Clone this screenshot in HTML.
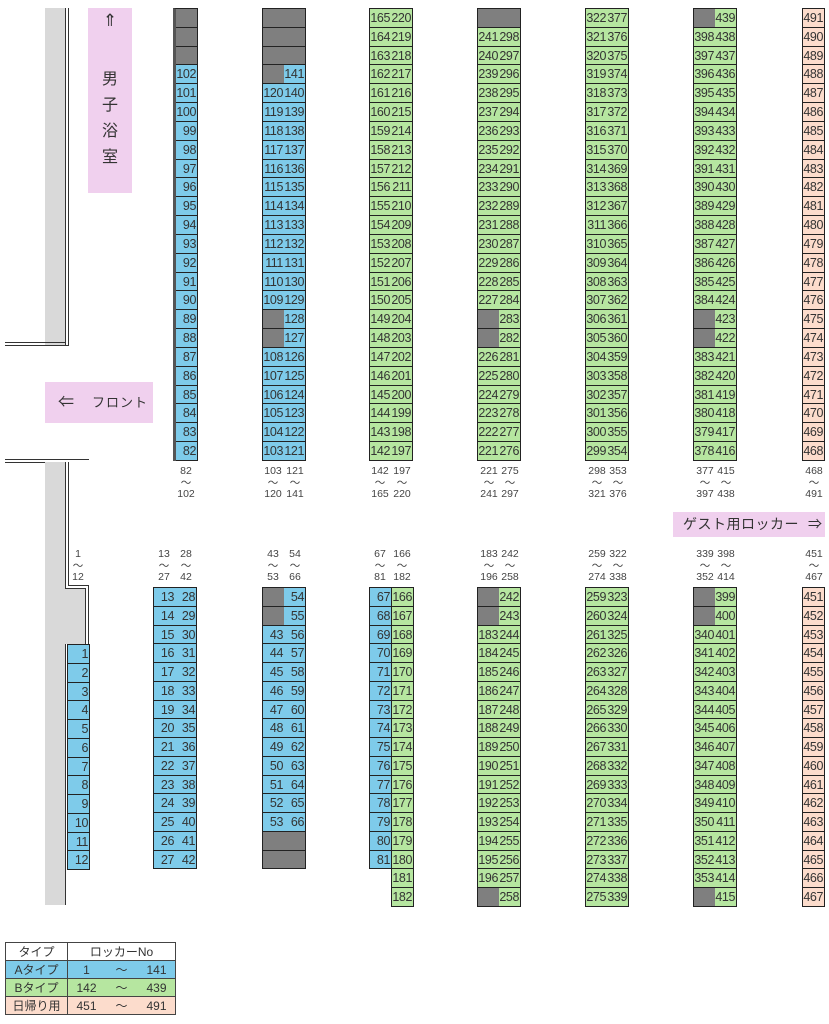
<!DOCTYPE html>
<html><head><meta charset="utf-8"><style>
body{margin:0;width:829px;height:1024px;background:#fff;position:relative;overflow:hidden;font-family:"Liberation Sans","Noto Sans CJK JP",sans-serif;color:#333}
.c{position:absolute;width:22px;border-top:1px solid #222;border-left:1px solid #222}
.c i,.c b,.c u,.c s{display:block;box-sizing:border-box;border-right:1px solid #222;border-bottom:1px solid #222;font-style:normal;font-weight:normal;text-decoration:none;font-size:12.5px;text-align:right;padding-right:1px;letter-spacing:-0.4px}
.t i,.t b,.t u,.t s{height:18.83px;line-height:18px}
.m i,.m b,.m u,.m s{height:18.75px;line-height:18px}
.c b{background:#7f7f7f}
.c i{background:#7ecbea}
.c u{background:#b6e6a0}
.c s{background:#fcdccc}
.l{position:absolute;width:30px;text-align:center;font-size:10.5px;line-height:11.5px;color:#444}
.g{position:absolute;background:#d9d9d9}
.p{position:absolute;background:#f0d0ee;white-space:nowrap;overflow:hidden}
table{position:absolute;left:5px;top:942px;border-collapse:collapse;font-size:12px;color:#333}
td{border:1px solid #444;height:17px;padding:0;text-align:center}
</style></head><body>
<!-- walls -->
<div class="g" style="left:45px;top:8px;width:21px;height:337px"></div>
<div style="position:absolute;left:65px;top:8px;width:1px;height:337px;background:#333"></div>
<div style="position:absolute;left:68px;top:8px;width:1px;height:337px;background:#333"></div>
<div style="position:absolute;left:5px;top:342px;width:61px;height:1px;background:#333"></div>
<div style="position:absolute;left:5px;top:345px;width:64px;height:1px;background:#333"></div>
<div style="position:absolute;left:5px;top:459px;width:84px;height:1px;background:#333"></div>
<div style="position:absolute;left:5px;top:462px;width:61px;height:1px;background:#333"></div>
<div class="g" style="left:45px;top:462px;width:21px;height:443px"></div>
<div class="g" style="left:65px;top:588px;width:21px;height:56px"></div>
<div style="position:absolute;left:65px;top:462px;width:1px;height:127px;background:#333"></div>
<div style="position:absolute;left:68px;top:462px;width:1px;height:124px;background:#333"></div>
<div style="position:absolute;left:68px;top:585px;width:21px;height:1px;background:#333"></div>
<div style="position:absolute;left:65px;top:588px;width:21px;height:1px;background:#333"></div>
<div style="position:absolute;left:88px;top:585px;width:1px;height:60px;background:#333"></div>
<div style="position:absolute;left:85px;top:588px;width:1px;height:56px;background:#333"></div>
<div style="position:absolute;left:65px;top:644px;width:1px;height:261px;background:#333"></div>

<!-- pink signs -->
<div class="p" style="left:88px;top:8px;width:44px;height:185px;text-align:center;font-size:16px">
<div style="margin-top:3px;font-size:17px">⇑</div>
<div style="margin-top:36px;line-height:26px">男<br>子<br>浴<br>室</div></div>
<div class="p" style="left:45px;top:382px;width:108px;height:41px;font-size:13px;line-height:41px"><span style="margin-left:13px;font-size:16px">⇐</span><span style="margin-left:18px;letter-spacing:1px">フロント</span></div>
<div class="p" style="left:673px;top:512px;width:152px;height:25px;font-size:14px;line-height:25px"><span style="margin-left:10px;letter-spacing:0.5px">ゲスト用ロッカー</span><span style="position:absolute;right:3px">⇒</span></div>

<!-- top columns -->
<div class="c t" style="left:173px;top:8px;border-left:3px solid #555"><b></b><b></b><b></b><i>102</i><i>101</i><i>100</i><i>99</i><i>98</i><i>97</i><i>96</i><i>95</i><i>94</i><i>93</i><i>92</i><i>91</i><i>90</i><i>89</i><i>88</i><i>87</i><i>86</i><i>85</i><i>84</i><i>83</i><i>82</i></div>
<div class="c t" style="left:262px;top:8px"><b></b><b></b><b></b><b></b><i>120</i><i>119</i><i>118</i><i>117</i><i>116</i><i>115</i><i>114</i><i>113</i><i>112</i><i>111</i><i>110</i><i>109</i><b></b><b></b><i>108</i><i>107</i><i>106</i><i>105</i><i>104</i><i>103</i></div>
<div class="c t" style="left:284px;top:8px;border-left:0"><b></b><b></b><b></b><i>141</i><i>140</i><i>139</i><i>138</i><i>137</i><i>136</i><i>135</i><i>134</i><i>133</i><i>132</i><i>131</i><i>130</i><i>129</i><i>128</i><i>127</i><i>126</i><i>125</i><i>124</i><i>123</i><i>122</i><i>121</i></div>
<div class="c t" style="left:369px;top:8px"><u>165</u><u>164</u><u>163</u><u>162</u><u>161</u><u>160</u><u>159</u><u>158</u><u>157</u><u>156</u><u>155</u><u>154</u><u>153</u><u>152</u><u>151</u><u>150</u><u>149</u><u>148</u><u>147</u><u>146</u><u>145</u><u>144</u><u>143</u><u>142</u></div>
<div class="c t" style="left:391px;top:8px;border-left:0"><u>220</u><u>219</u><u>218</u><u>217</u><u>216</u><u>215</u><u>214</u><u>213</u><u>212</u><u>211</u><u>210</u><u>209</u><u>208</u><u>207</u><u>206</u><u>205</u><u>204</u><u>203</u><u>202</u><u>201</u><u>200</u><u>199</u><u>198</u><u>197</u></div>
<div class="c t" style="left:477px;top:8px"><b></b><u>241</u><u>240</u><u>239</u><u>238</u><u>237</u><u>236</u><u>235</u><u>234</u><u>233</u><u>232</u><u>231</u><u>230</u><u>229</u><u>228</u><u>227</u><b></b><b></b><u>226</u><u>225</u><u>224</u><u>223</u><u>222</u><u>221</u></div>
<div class="c t" style="left:499px;top:8px;border-left:0"><b></b><u>298</u><u>297</u><u>296</u><u>295</u><u>294</u><u>293</u><u>292</u><u>291</u><u>290</u><u>289</u><u>288</u><u>287</u><u>286</u><u>285</u><u>284</u><u>283</u><u>282</u><u>281</u><u>280</u><u>279</u><u>278</u><u>277</u><u>276</u></div>
<div class="c t" style="left:585px;top:8px"><u>322</u><u>321</u><u>320</u><u>319</u><u>318</u><u>317</u><u>316</u><u>315</u><u>314</u><u>313</u><u>312</u><u>311</u><u>310</u><u>309</u><u>308</u><u>307</u><u>306</u><u>305</u><u>304</u><u>303</u><u>302</u><u>301</u><u>300</u><u>299</u></div>
<div class="c t" style="left:607px;top:8px;border-left:0"><u>377</u><u>376</u><u>375</u><u>374</u><u>373</u><u>372</u><u>371</u><u>370</u><u>369</u><u>368</u><u>367</u><u>366</u><u>365</u><u>364</u><u>363</u><u>362</u><u>361</u><u>360</u><u>359</u><u>358</u><u>357</u><u>356</u><u>355</u><u>354</u></div>
<div class="c t" style="left:693px;top:8px"><b></b><u>398</u><u>397</u><u>396</u><u>395</u><u>394</u><u>393</u><u>392</u><u>391</u><u>390</u><u>389</u><u>388</u><u>387</u><u>386</u><u>385</u><u>384</u><b></b><b></b><u>383</u><u>382</u><u>381</u><u>380</u><u>379</u><u>378</u></div>
<div class="c t" style="left:715px;top:8px;border-left:0"><u>439</u><u>438</u><u>437</u><u>436</u><u>435</u><u>434</u><u>433</u><u>432</u><u>431</u><u>430</u><u>429</u><u>428</u><u>427</u><u>426</u><u>425</u><u>424</u><u>423</u><u>422</u><u>421</u><u>420</u><u>419</u><u>418</u><u>417</u><u>416</u></div>
<div class="c t" style="left:802px;top:8px"><s>491</s><s>490</s><s>489</s><s>488</s><s>487</s><s>486</s><s>485</s><s>484</s><s>483</s><s>482</s><s>481</s><s>480</s><s>479</s><s>478</s><s>477</s><s>476</s><s>475</s><s>474</s><s>473</s><s>472</s><s>471</s><s>470</s><s>469</s><s>468</s></div>

<!-- top labels -->
<div class="l" style="left:171px;top:466px">82<br>～<br>102</div>
<div class="l" style="left:258px;top:466px">103<br>～<br>120</div>
<div class="l" style="left:280px;top:466px">121<br>～<br>141</div>
<div class="l" style="left:365px;top:466px">142<br>～<br>165</div>
<div class="l" style="left:387px;top:466px">197<br>～<br>220</div>
<div class="l" style="left:474px;top:466px">221<br>～<br>241</div>
<div class="l" style="left:495px;top:466px">275<br>～<br>297</div>
<div class="l" style="left:582px;top:466px">298<br>～<br>321</div>
<div class="l" style="left:603px;top:466px">353<br>～<br>376</div>
<div class="l" style="left:690px;top:466px">377<br>～<br>397</div>
<div class="l" style="left:711px;top:466px">415<br>～<br>438</div>
<div class="l" style="left:799px;top:466px">468<br>～<br>491</div>

<!-- bottom labels -->
<div class="l" style="left:63px;top:549px">1<br>～<br>12</div>
<div class="l" style="left:149px;top:549px">13<br>～<br>27</div>
<div class="l" style="left:171px;top:549px">28<br>～<br>42</div>
<div class="l" style="left:258px;top:549px">43<br>～<br>53</div>
<div class="l" style="left:280px;top:549px">54<br>～<br>66</div>
<div class="l" style="left:365px;top:549px">67<br>～<br>81</div>
<div class="l" style="left:387px;top:549px">166<br>～<br>182</div>
<div class="l" style="left:474px;top:549px">183<br>～<br>196</div>
<div class="l" style="left:495px;top:549px">242<br>～<br>258</div>
<div class="l" style="left:582px;top:549px">259<br>～<br>274</div>
<div class="l" style="left:603px;top:549px">322<br>～<br>338</div>
<div class="l" style="left:690px;top:549px">339<br>～<br>352</div>
<div class="l" style="left:711px;top:549px">398<br>～<br>414</div>
<div class="l" style="left:799px;top:549px">451<br>～<br>467</div>

<!-- bottom columns -->
<div class="c m" style="left:67px;top:644px"><i>1</i><i>2</i><i>3</i><i>4</i><i>5</i><i>6</i><i>7</i><i>8</i><i>9</i><i>10</i><i>11</i><i>12</i></div>
<div class="c m" style="left:153px;top:587px"><i>13</i><i>14</i><i>15</i><i>16</i><i>17</i><i>18</i><i>19</i><i>20</i><i>21</i><i>22</i><i>23</i><i>24</i><i>25</i><i>26</i><i>27</i></div>
<div class="c m" style="left:175px;top:587px;border-left:0"><i>28</i><i>29</i><i>30</i><i>31</i><i>32</i><i>33</i><i>34</i><i>35</i><i>36</i><i>37</i><i>38</i><i>39</i><i>40</i><i>41</i><i>42</i></div>
<div class="c m" style="left:262px;top:587px"><b></b><b></b><i>43</i><i>44</i><i>45</i><i>46</i><i>47</i><i>48</i><i>49</i><i>50</i><i>51</i><i>52</i><i>53</i><b></b><b></b></div>
<div class="c m" style="left:284px;top:587px;border-left:0"><i>54</i><i>55</i><i>56</i><i>57</i><i>58</i><i>59</i><i>60</i><i>61</i><i>62</i><i>63</i><i>64</i><i>65</i><i>66</i><b></b><b></b></div>
<div class="c m" style="left:369px;top:587px"><i>67</i><i>68</i><i>69</i><i>70</i><i>71</i><i>72</i><i>73</i><i>74</i><i>75</i><i>76</i><i>77</i><i>78</i><i>79</i><i>80</i><i>81</i></div>
<div class="c m" style="left:391px;top:587px"><u>166</u><u>167</u><u>168</u><u>169</u><u>170</u><u>171</u><u>172</u><u>173</u><u>174</u><u>175</u><u>176</u><u>177</u><u>178</u><u>179</u><u>180</u><u>181</u><u>182</u></div>
<div class="c m" style="left:477px;top:587px"><b></b><b></b><u>183</u><u>184</u><u>185</u><u>186</u><u>187</u><u>188</u><u>189</u><u>190</u><u>191</u><u>192</u><u>193</u><u>194</u><u>195</u><u>196</u><b></b></div>
<div class="c m" style="left:499px;top:587px;border-left:0"><u>242</u><u>243</u><u>244</u><u>245</u><u>246</u><u>247</u><u>248</u><u>249</u><u>250</u><u>251</u><u>252</u><u>253</u><u>254</u><u>255</u><u>256</u><u>257</u><u>258</u></div>
<div class="c m" style="left:585px;top:587px"><u>259</u><u>260</u><u>261</u><u>262</u><u>263</u><u>264</u><u>265</u><u>266</u><u>267</u><u>268</u><u>269</u><u>270</u><u>271</u><u>272</u><u>273</u><u>274</u><u>275</u></div>
<div class="c m" style="left:607px;top:587px;border-left:0"><u>323</u><u>324</u><u>325</u><u>326</u><u>327</u><u>328</u><u>329</u><u>330</u><u>331</u><u>332</u><u>333</u><u>334</u><u>335</u><u>336</u><u>337</u><u>338</u><u>339</u></div>
<div class="c m" style="left:693px;top:587px"><b></b><b></b><u>340</u><u>341</u><u>342</u><u>343</u><u>344</u><u>345</u><u>346</u><u>347</u><u>348</u><u>349</u><u>350</u><u>351</u><u>352</u><u>353</u><b></b></div>
<div class="c m" style="left:715px;top:587px;border-left:0"><u>399</u><u>400</u><u>401</u><u>402</u><u>403</u><u>404</u><u>405</u><u>406</u><u>407</u><u>408</u><u>409</u><u>410</u><u>411</u><u>412</u><u>413</u><u>414</u><u>415</u></div>
<div class="c m" style="left:802px;top:587px"><s>451</s><s>452</s><s>453</s><s>454</s><s>455</s><s>456</s><s>457</s><s>458</s><s>459</s><s>460</s><s>461</s><s>462</s><s>463</s><s>464</s><s>465</s><s>466</s><s>467</s></div>

<!-- legend -->
<table>
<tr><td style="width:61px">タイプ</td><td style="width:107px">ロッカーNo</td></tr>
<tr style="background:#7ecbea"><td>Aタイプ</td><td><span style="display:inline-block;width:30px">1</span><span style="display:inline-block;width:40px">～</span><span style="display:inline-block;width:30px">141</span></td></tr>
<tr style="background:#b6e6a0"><td>Bタイプ</td><td><span style="display:inline-block;width:30px">142</span><span style="display:inline-block;width:40px">～</span><span style="display:inline-block;width:30px">439</span></td></tr>
<tr style="background:#fcdccc"><td>日帰り用</td><td><span style="display:inline-block;width:30px">451</span><span style="display:inline-block;width:40px">～</span><span style="display:inline-block;width:30px">491</span></td></tr>
</table>
</body></html>
